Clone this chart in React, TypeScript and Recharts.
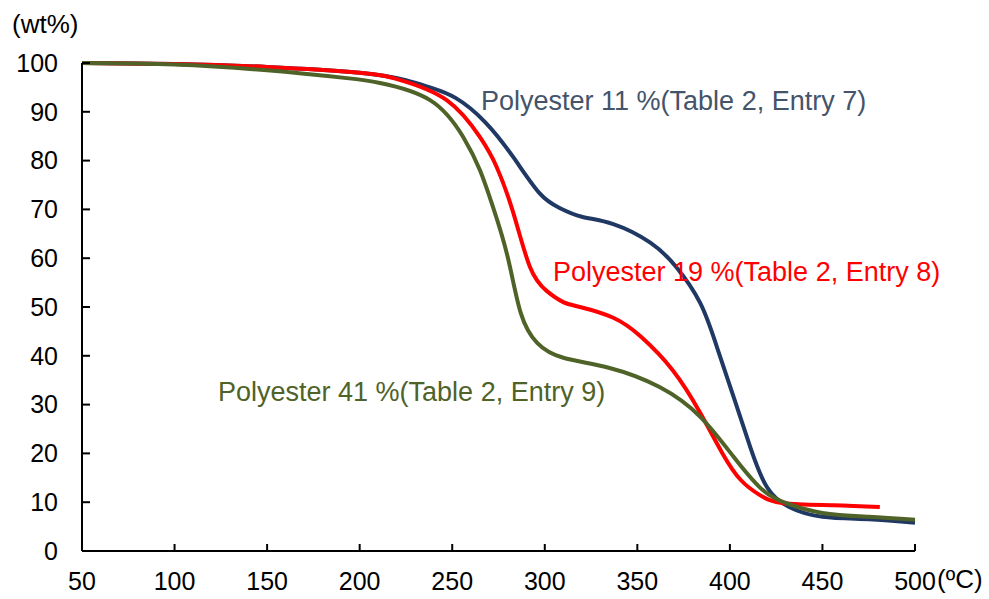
import { LineChart, Line, XAxis, YAxis } from "recharts";

const FONT = '"Liberation Sans", Arial, sans-serif';

const X_TICKS = [50, 100, 150, 200, 250, 300, 350, 400, 450, 500];
const Y_TICKS = [0, 10, 20, 30, 40, 50, 60, 70, 80, 90, 100];

// Polyester 11 % (Table 2, Entry 7)
const temp11 = [50, 100, 150, 200, 225, 238, 252, 268, 283, 297, 308, 320, 337, 357, 371, 384, 393, 402, 411, 420, 432, 450, 475, 500];
const wt11 = [100, 99.8, 99.2, 98, 96.5, 95, 92.8, 87.8, 80.7, 73.4, 70.3, 68.5, 67, 63.2, 58.2, 50.8, 41.8, 31.6, 21.3, 13.1, 9, 7, 6.5, 5.8];

// Polyester 19 % (Table 2, Entry 8)
const temp19 = [50, 100, 150, 200, 222, 247, 265, 274, 283, 292, 301, 310, 319, 337, 352, 369, 384, 396, 406, 416, 429, 456, 481];
const wt19 = [100, 99.8, 99.2, 98, 96.5, 92.4, 84.8, 78.7, 69.3, 58.2, 53.3, 51, 50, 47.8, 43.9, 37.1, 28.3, 20, 14.5, 11.5, 9.8, 9.4, 9.0];

// Polyester 41 % (Table 2, Entry 9)
const temp41 = [50, 100, 150, 193, 211, 238, 256, 265, 272, 280, 287, 296, 310, 335, 362, 384, 402, 416, 429, 450, 475, 500];
const wt41 = [100, 99.7, 98.5, 96.9, 95.9, 92.4, 84.8, 78, 70.5, 60.2, 48.8, 42.6, 39.6, 37.5, 33.6, 27.5, 19.3, 13.1, 10, 7.8, 7, 6.4];

const toRows = (t: number[], w: number[]) => t.map((x, i) => ({ t: x, w: w[i] }));

const SERIES = [
  { key: "11", data: toRows(temp11, wt11), color: "#203864" },
  { key: "19", data: toRows(temp19, wt19), color: "#FF0000" },
  { key: "41", data: toRows(temp41, wt41), color: "#4F6228" },
];

const LABELS = [
  { text: "Polyester 11 %(Table 2, Entry 7)", color: "#44546A", left: 481, top: 86 },
  { text: "Polyester 19 %(Table 2, Entry 8)", color: "#FF0000", left: 553, top: 257 },
  { text: "Polyester 41 %(Table 2, Entry 9)", color: "#4F6228", left: 218, top: 377 },
];

const tickStyle = { fontSize: 25, fill: "#000", fontFamily: FONT };

export default function App() {
  return (
    <div style={{ position: "absolute", left: 0, top: 0, width: 989, height: 599, background: "#fff", fontFamily: FONT }}>
      <LineChart width={989} height={599} margin={{ top: 63, right: 74, bottom: 0, left: 0 }}>
        <XAxis
          dataKey="t"
          type="number"
          domain={[50, 500]}
          ticks={X_TICKS}
          height={48}
          tickSize={-7}
          tickMargin={28}
          tick={tickStyle}
          axisLine={{ stroke: "#000", strokeWidth: 2 }}
          tickLine={{ stroke: "#000", strokeWidth: 2 }}
          allowDuplicatedCategory={false}
        />
        <YAxis
          dataKey="w"
          type="number"
          domain={[0, 100]}
          ticks={Y_TICKS}
          width={82}
          tickSize={-8}
          tickMargin={32}
          tick={tickStyle}
          axisLine={{ stroke: "#000", strokeWidth: 2 }}
          tickLine={{ stroke: "#000", strokeWidth: 2 }}
        />
        {SERIES.map((s) => (
          <Line
            key={s.key}
            data={s.data}
            dataKey="w"
            type="natural"
            stroke={s.color}
            strokeWidth={4}
            dot={false}
            isAnimationActive={false}
          />
        ))}
      </LineChart>
      <div style={{ position: "absolute", left: 12, top: 9, fontSize: 26, color: "#000", lineHeight: "30px" }}>(wt%)</div>
      <div style={{ position: "absolute", left: 937, top: 564, fontSize: 26, color: "#000", lineHeight: "30px" }}>(ºC)</div>
      {LABELS.map((l) => (
        <div
          key={l.text}
          style={{ position: "absolute", left: l.left, top: l.top, fontSize: 27, color: l.color, lineHeight: "30px", whiteSpace: "nowrap" }}
        >
          {l.text}
        </div>
      ))}
    </div>
  );
}
